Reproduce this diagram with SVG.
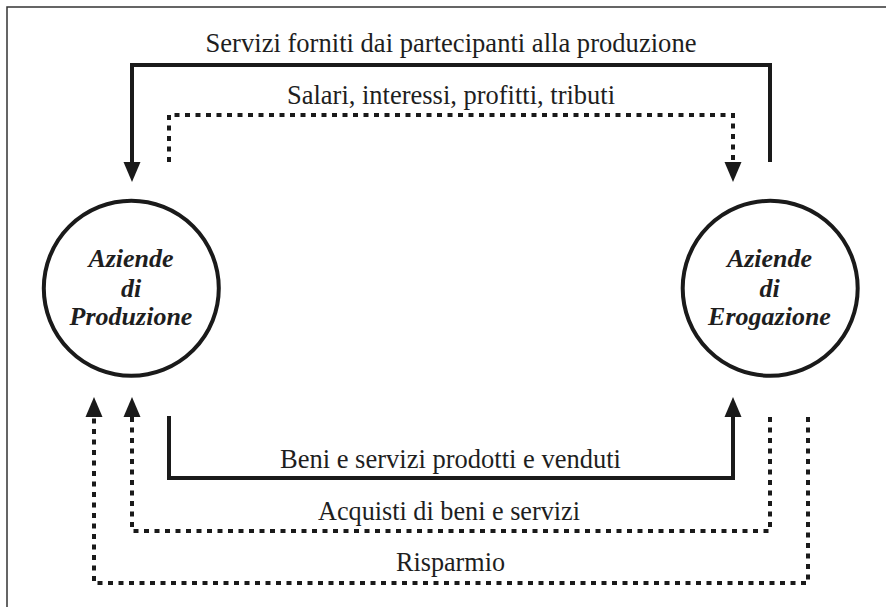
<svg xmlns="http://www.w3.org/2000/svg" width="886" height="607" viewBox="0 0 886 607">
<defs>
<style>
.lbl{font-size:26.5px;fill:#1e1e1e;text-anchor:middle}
.node{font-size:26px;font-weight:bold;font-style:italic;fill:#1e1e1e;text-anchor:middle}
.solid{fill:none;stroke:#1a1a1a;stroke-width:4;stroke-linejoin:miter}
.dot{fill:none;stroke:#1a1a1a;stroke-width:4;stroke-dasharray:5 5.5}
.circ{fill:#fff;stroke:#1a1a1a;stroke-width:4}
</style>
<marker id="ah" markerUnits="userSpaceOnUse" markerWidth="22" markerHeight="20" refX="0" refY="8.5" orient="auto" viewBox="0 0 22 17">
<path d="M0,0 L20,8.5 L0,17 Z" fill="#1a1a1a"/>
</marker>
</defs>
<rect width="886" height="607" fill="#fff"/>
<path d="M7,607 V7 H886" fill="none" stroke="#333" stroke-width="1.5"/>
<g id="connectors" font-family="'Liberation Serif', 'Times New Roman', serif">
<path class="solid" d="M770,162 V65 H132 V162" marker-end="url(#ah)"/>
<path class="dot" d="M169,162 V115 H733 V162" marker-end="url(#ah)"/>
<path class="solid" d="M169,416 V478 H733 V417" marker-end="url(#ah)"/>
<path class="dot" d="M770,417 V531 H132 V417" marker-end="url(#ah)"/>
<path class="dot" d="M808,417 V583 H94 V417" marker-end="url(#ah)"/>
<text class="lbl" x="451" y="52" textLength="491" lengthAdjust="spacingAndGlyphs">Servizi forniti dai partecipanti alla produzione</text>
<text class="lbl" x="451" y="104" textLength="328" lengthAdjust="spacingAndGlyphs">Salari, interessi, profitti, tributi</text>
<text class="lbl" x="450.5" y="468" textLength="341" lengthAdjust="spacingAndGlyphs">Beni e servizi prodotti e venduti</text>
<text class="lbl" x="449" y="520" textLength="262" lengthAdjust="spacingAndGlyphs">Acquisti di beni e servizi</text>
<text class="lbl" x="450.5" y="571" textLength="109" lengthAdjust="spacingAndGlyphs">Risparmio</text>
</g>
<g id="produzione" font-family="'Liberation Serif', 'Times New Roman', serif">
<circle class="circ" cx="131.3" cy="288.3" r="87.5"/>
<text class="node" x="131" y="266.7">Aziende</text>
<text class="node" x="131" y="296.7">di</text>
<text class="node" x="131" y="325">Produzione</text>
</g>
<g id="erogazione" font-family="'Liberation Serif', 'Times New Roman', serif">
<circle class="circ" cx="770.2" cy="288.3" r="87.5"/>
<text class="node" x="769.5" y="266.7">Aziende</text>
<text class="node" x="769.5" y="296.7">di</text>
<text class="node" x="769.5" y="325">Erogazione</text>
</g>
</svg>
